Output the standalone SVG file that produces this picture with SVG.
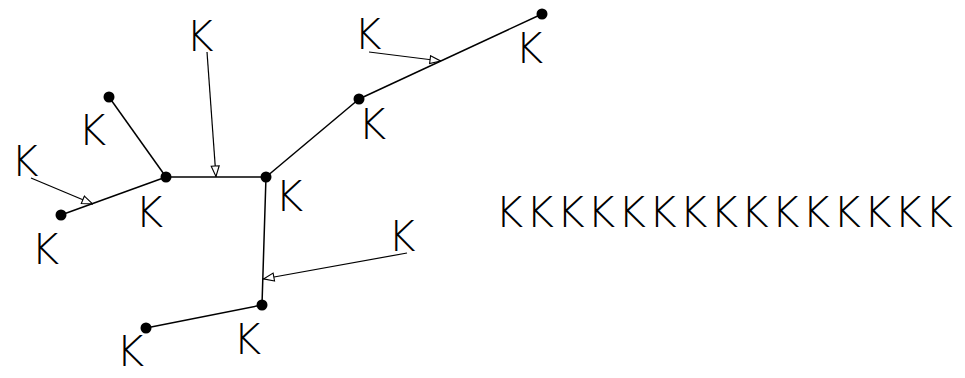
<svg xmlns="http://www.w3.org/2000/svg" width="965" height="378" viewBox="0 0 965 378">
<style>
.edge{stroke:#000;stroke-width:1.5;fill:none}
.arr{stroke:#000;stroke-width:1.2;fill:none;marker-end:url(#tri)}
.node{fill:#000}
.nl{font-family:"DejaVu Sans","Liberation Sans",sans-serif;font-weight:300;font-size:43px;fill:#000}
.al{font-family:"DejaVu Sans","Liberation Sans",sans-serif;font-weight:200;font-size:42px;fill:#000}
</style>
<defs>
<marker id="tri" viewBox="0 0 12 10" refX="12" refY="5" markerWidth="12" markerHeight="10" markerUnits="userSpaceOnUse" orient="auto">
<path d="M1,1 L11.5,5 L1,9 Z" fill="#fff" stroke="#000" stroke-width="1.1"/>
</marker>
</defs>
<rect width="965" height="378" fill="#fff"/>
<g id="connectors">
<line class="edge" x1="109" y1="97" x2="166" y2="177"/>
<line class="edge" x1="61" y1="215" x2="166" y2="177"/>
<line class="edge" x1="166" y1="177" x2="266" y2="177"/>
<line class="edge" x1="266" y1="177" x2="359" y2="99"/>
<line class="edge" x1="359" y1="99" x2="542" y2="14"/>
<line class="edge" x1="266" y1="177" x2="262" y2="305"/>
<line class="edge" x1="262" y1="305" x2="146" y2="328"/>
<line class="arr" x1="207" y1="52" x2="216" y2="177"/>
<line class="arr" x1="31" y1="178" x2="93" y2="204"/>
<line class="arr" x1="369" y1="52" x2="441" y2="61"/>
<line class="arr" x1="407" y1="253" x2="263" y2="279"/>
</g>
<g id="nA"><circle class="node" cx="109" cy="97" r="5.5"/><text class="nl" x="78" y="145">K</text></g>
<g id="nB"><circle class="node" cx="166" cy="177" r="5.5"/><text class="nl" x="135" y="227">K</text></g>
<g id="nC"><circle class="node" cx="266" cy="177" r="5.5"/><text class="nl" x="275" y="211">K</text></g>
<g id="nD"><circle class="node" cx="61" cy="215" r="5.5"/><text class="nl" x="31" y="264">K</text></g>
<g id="nE"><circle class="node" cx="262" cy="305" r="5.5"/><text class="nl" x="233" y="354">K</text></g>
<g id="nF"><circle class="node" cx="146" cy="328" r="5.5"/><text class="nl" x="116" y="366">K</text></g>
<g id="nG"><circle class="node" cx="359" cy="99" r="5.5"/><text class="nl" x="358" y="139">K</text></g>
<g id="nH"><circle class="node" cx="542" cy="14" r="5.5"/><text class="nl" x="515" y="63">K</text></g>
<g id="l1"><text class="al" x="186" y="51">K</text></g>
<g id="l2"><text class="al" x="11" y="176">K</text></g>
<g id="l3"><text class="al" x="354" y="49">K</text></g>
<g id="l4"><text class="al" x="388" y="251">K</text></g>
<g id="row"><text class="nl" x="495" y="227" textLength="458" lengthAdjust="spacing">KKKKKKKKKKKKKKK</text></g>
</svg>
